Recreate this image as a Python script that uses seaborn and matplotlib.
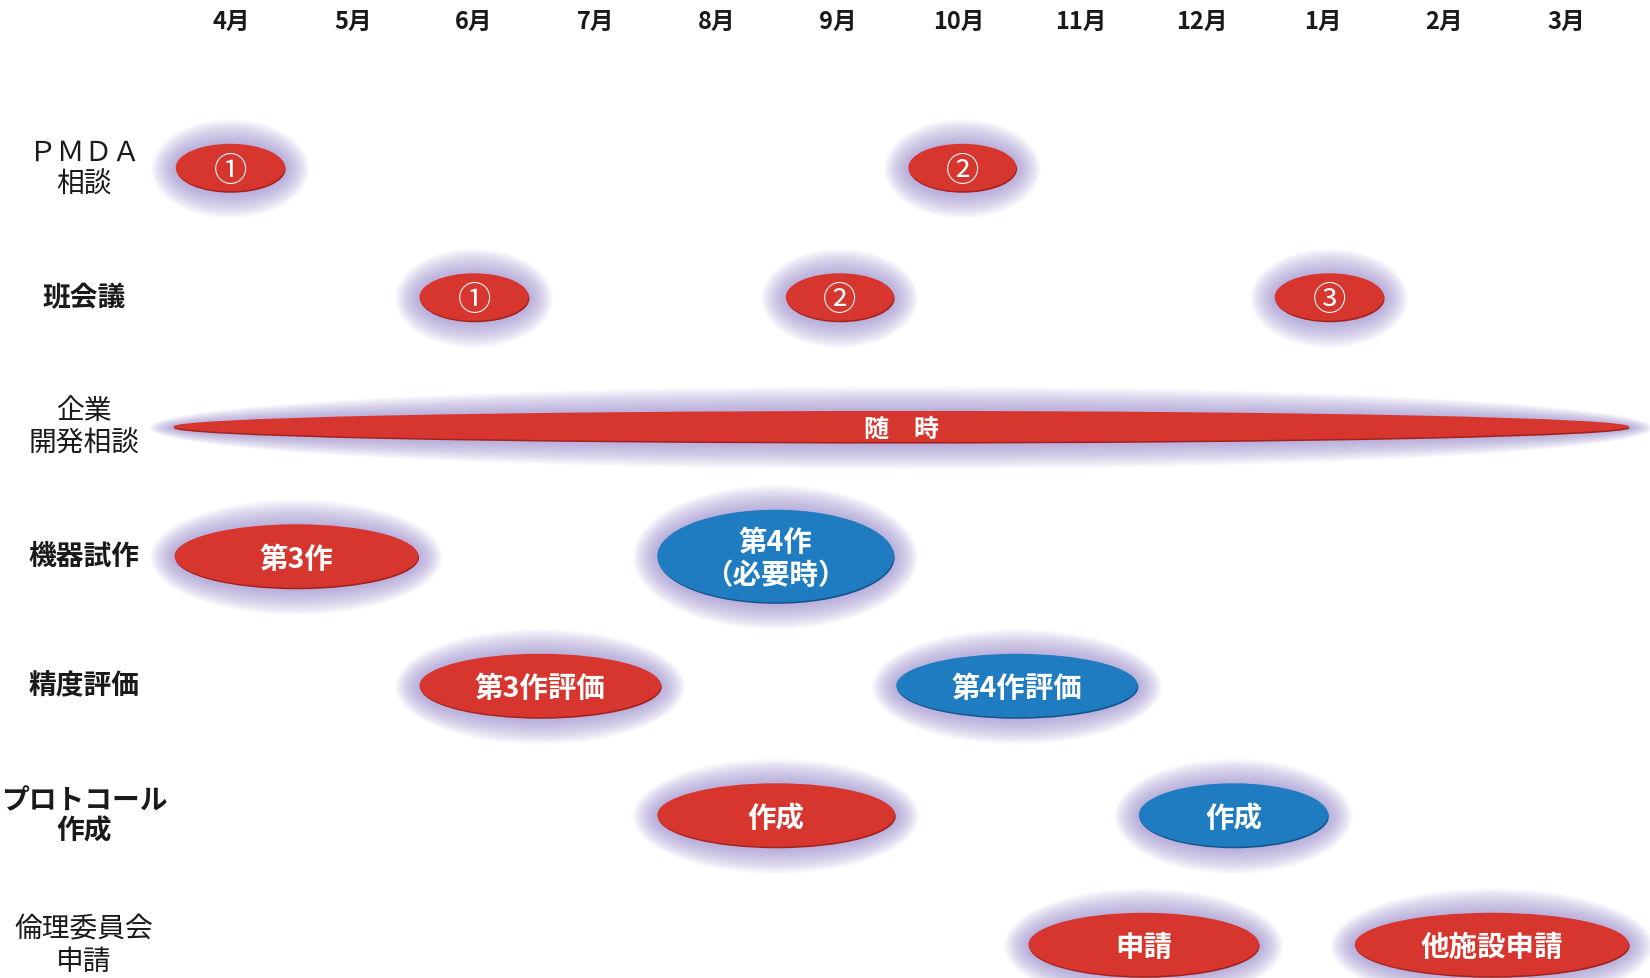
import matplotlib
matplotlib.use("Agg")
import matplotlib.pyplot as plt
from matplotlib.patches import Ellipse
import pandas as pd
import seaborn as sns

# ---- schedule data -------------------------------------------------------
months = ["4月", "5月", "6月", "7月", "8月", "9月", "10月", "11月", "12月", "1月", "2月", "3月"]
rows = ["ＰＭＤＡ\n相談", "班会議", "企業\n開発相談", "機器試作", "精度評価",
        "プロトコール\n作成", "倫理委員会\n申請"]

task_row = ["ＰＭＤＡ\n相談", "ＰＭＤＡ\n相談", "班会議", "班会議", "班会議",
            "企業\n開発相談", "機器試作", "機器試作", "精度評価", "精度評価",
            "プロトコール\n作成", "プロトコール\n作成", "倫理委員会\n申請", "倫理委員会\n申請"]
# start / end of each item in month units (0 = centre of April)
task_start = [-0.46, 5.58, 1.55, 4.57, 8.60, -0.48, -0.47, 3.51, 1.55, 5.48, 3.51, 7.48, 6.57, 9.26]
task_end = [0.44, 6.47, 2.45, 5.46, 9.50, 11.52, 1.54, 5.46, 3.54, 7.47, 5.47, 9.04, 8.47, 11.52]
task_text = ["①", "②", "①", "②", "③", "随　時", "第3作", "第4作\n（必要時）",
             "第3作評価", "第4作評価", "作成", "作成", "申請", "他施設申請"]
task_group = ["通常", "通常", "通常", "通常", "通常", "通常", "通常", "第4作",
              "通常", "第4作", "通常", "第4作", "通常", "通常"]

df = pd.DataFrame({"row": task_row, "start": task_start, "end": task_end,
                   "text": task_text, "group": task_group})

# ---- styling -------------------------------------------------------------
sns.set_theme(style="white")
plt.rcParams["font.family"] = ["Noto Sans CJK JP", "DejaVu Sans"]

fill = {"通常": "#d7362f", "第4作": "#1f7cc0"}
rim = {"通常": "#a3221e", "第4作": "#14548c"}
halo = "#9a8cd0"
bold_rows = {"班会議", "機器試作", "精度評価", "プロトコール\n作成"}

W, H = 1650, 979
L, T = 150, 45
fig = plt.figure(figsize=(W / 100, H / 100), dpi=100)
fig.patch.set_facecolor("white")
ax = fig.add_axes([L / W, 0, 1 - L / W, (H - T) / H])

# pixel -> data mapping of the layout
x0, dx = 231.5, 121.3
y3, dy = 557.0, 129.5
ax.set_xlim((L - x0) / dx, (W - x0) / dx)
ax.set_ylim(3 + (H - y3) / dy, 3 - (y3 - T) / dy)

row_pos = {r: i for i, r in enumerate(rows)}


def capsule_height(text, span):
    if "\n" in text:
        return 0.715
    if span > 6:
        return 0.24
    if span < 1:
        return 0.366
    return 0.49


for _, r in df.iterrows():
    cx = (r.start + r.end) / 2
    cy = row_pos[r.row]
    w = r.end - r.start
    h = capsule_height(r.text, w)
    # soft lavender halo
    n = 22
    for k in range(n):
        t = 1 - k / n
        ax.add_patch(Ellipse((cx, cy + 0.01), w + 2 * 0.2 * t, h + 2 * 0.2 * t,
                             facecolor=halo, edgecolor="none", alpha=0.042,
                             zorder=1, clip_on=False))
    # darker rim showing along the lower edge, then the body
    ax.add_patch(Ellipse((cx + 0.006, cy + 0.012), w, h, facecolor=rim[r.group],
                         edgecolor="none", zorder=2, clip_on=False))
    ax.add_patch(Ellipse((cx, cy), w, h, facecolor=fill[r.group],
                         edgecolor="none", zorder=3, clip_on=False))
    if r.text in ("①", "②", "③"):
        size, weight = 24, "normal"
    elif r.text == "随　時":
        size, weight = 18, "bold"
    else:
        size, weight = 20.5, "bold"
    ax.text(cx, cy + 0.02, r.text, ha="center", va="center", color="white",
            fontsize=size, fontweight=weight, linespacing=1.2, zorder=4)

# month labels along the top
ax.set_xticks(range(len(months)))
ax.set_xticklabels(months, fontsize=17, fontweight="bold", color="#1a1a1a")
ax.xaxis.tick_top()
ax.tick_params(axis="x", length=0, pad=8)

# row labels on the left, centred
ax.set_yticks(range(len(rows)))
ax.set_yticklabels(rows, fontsize=20, color="#1a1a1a")
ax.tick_params(axis="y", length=0, pad=47.5)
for lbl, name in zip(ax.get_yticklabels(), rows):
    lbl.set_ha("center")
    lbl.set_va("center")
    lbl.set_linespacing(1.1)
    lbl.set_fontweight("bold" if name in bold_rows else "normal")

ax.grid(False)
sns.despine(ax=ax, left=True, bottom=True, top=True, right=True)
ax.set_facecolor("white")

fig.savefig("out.png", dpi=100, facecolor="white")
